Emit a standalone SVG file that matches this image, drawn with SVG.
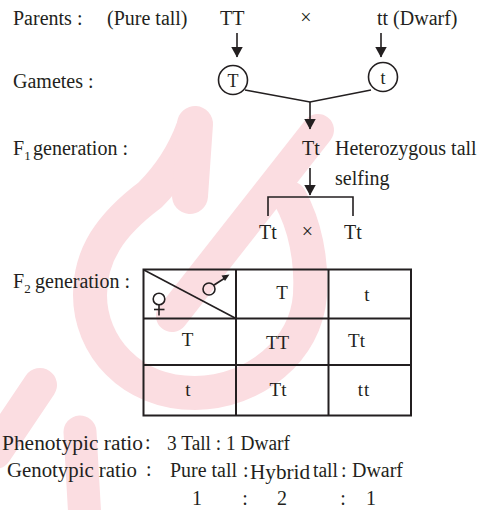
<svg xmlns="http://www.w3.org/2000/svg" width="479" height="510" viewBox="0 0 479 510">
<defs>
<style>
.t{font-family:"Liberation Serif","Times New Roman",serif;font-size:20px;fill:#231f20}
.s{font-size:18px}
.c{font-size:19px}
.b{font-family:"Liberation Serif","Times New Roman",serif;font-size:20px;fill:#231f20}
.ln{stroke:#231f20;stroke-width:1.6;fill:none}
.tb{stroke:#231f20;stroke-width:2;fill:none}
.wm{stroke:#fbdde1;fill:none;stroke-linecap:round;stroke-linejoin:round}
</style>
<marker id="ah" viewBox="0 0 11 12" refX="10.5" refY="6" markerWidth="11" markerHeight="12" markerUnits="userSpaceOnUse" orient="auto">
<path d="M0,0 L11,6 L0,12 Z" fill="#231f20"/>
</marker>
</defs>
<rect width="479" height="510" fill="#ffffff"/>
<g id="watermark">
<path class="wm" stroke-width="34" d="M290,198 C305,225 312,260 310,295 C306,350 255,392 195,393 C130,393 90,345 90,295 C90,255 110,225 150,195 C170,175 185,150 193,128"/>
<path class="wm" stroke-width="36" d="M195,124 L190,196"/>
<path class="wm" stroke-width="32" d="M318,130 L172,316"/>
<path class="wm" stroke-width="34" d="M40,385 L-5,452"/>
<path class="wm" stroke-width="33" d="M80,432 L85,520"/>
</g>
<g id="labels">
<text class="t" x="13" y="25">Parents :</text>
<text class="t" x="13" y="88">Gametes :</text>
<text class="t" x="13" y="155">F<tspan font-size="13" dy="5">1</tspan><tspan x="33" dy="-5">generation :</tspan></text>
<text class="t" x="13" y="288">F<tspan font-size="13" dy="5">2</tspan><tspan x="35" dy="-5">generation :</tspan></text>
</g>
<g id="parent-TT"><text class="t" x="107" y="25">(Pure tall)</text><text class="t" x="220" y="25">TT</text></g>
<g id="cross1"><text class="t" x="306" y="24" font-size="15" text-anchor="middle">×</text></g>
<g id="parent-tt"><text class="t" x="377" y="25">tt (Dwarf)</text></g>
<g id="gamete-T"><circle class="ln" cx="233" cy="80" r="14.5"/><text class="t s" x="233" y="86.5" text-anchor="middle">T</text></g>
<g id="gamete-t"><circle class="ln" cx="383" cy="77" r="14.5"/><text class="t s" x="383" y="83.5" text-anchor="middle">t</text></g>
<g id="f1"><text class="t" x="302" y="155">Tt</text><text class="t" x="335" y="155">Heterozygous tall</text><text class="t" x="335" y="185">selfing</text></g>
<g id="selfing-cross">
<text class="t" x="259" y="239" font-size="22">Tt</text>
<text class="t" x="307.5" y="238" font-size="15" text-anchor="middle">×</text>
<text class="t" x="344" y="239" font-size="22">Tt</text>
</g>
<g id="connectors">
<line class="ln" x1="237" y1="33" x2="237" y2="57" marker-end="url(#ah)"/>
<line class="ln" x1="381" y1="33" x2="381" y2="57" marker-end="url(#ah)"/>
<polyline class="ln" points="245,90 310,102 371,90"/>
<line class="ln" x1="310" y1="102" x2="310" y2="129" marker-end="url(#ah)"/>
<line class="ln" x1="310" y1="168" x2="310" y2="195" marker-end="url(#ah)"/>
<polyline class="ln" points="268,216 268,197 353,197 353,216"/>
</g>
<g id="punnett">
<rect class="tb" x="143.5" y="269.5" width="267.5" height="146"/>
<line class="tb" x1="236" y1="269.5" x2="236" y2="415.5"/>
<line class="tb" x1="328.5" y1="269.5" x2="328.5" y2="415.5"/>
<line class="tb" x1="143.5" y1="318.5" x2="411" y2="318.5"/>
<line class="tb" x1="143.5" y1="365" x2="411" y2="365"/>
<line class="ln" x1="144" y1="270" x2="236" y2="318.5"/>
<circle class="ln" cx="209" cy="289" r="6"/>
<line class="ln" x1="214" y1="285" x2="225" y2="278"/>
<path d="M229.5,274.5 L221.5,275.5 L225,281 Z" fill="#231f20"/>
<circle class="ln" cx="159" cy="299" r="5.8"/>
<line class="ln" x1="159" y1="305" x2="159" y2="315.5"/>
<line class="ln" x1="154" y1="309.5" x2="164.5" y2="309.5"/>
<text class="t c" x="282" y="298.5" text-anchor="middle">T</text>
<text class="t c" x="367" y="301" text-anchor="middle">t</text>
<text class="t c" x="187.5" y="345.5" text-anchor="middle">T</text>
<text class="t c" x="277.5" y="348.5" text-anchor="middle">TT</text>
<text class="t c" x="356.5" y="347" text-anchor="middle">Tt</text>
<text class="t c" x="188" y="396" text-anchor="middle">t</text>
<text class="t c" x="278" y="396" text-anchor="middle">Tt</text>
<text class="t c" x="364" y="395.5" text-anchor="middle" letter-spacing="1">tt</text>
</g>
<g id="ratios">
<text class="b" x="2" y="450" textLength="141" lengthAdjust="spacingAndGlyphs">Phenotypic ratio</text>
<text class="b" x="145" y="449">:</text>
<text class="b" x="167" y="450" textLength="123" lengthAdjust="spacingAndGlyphs">3 Tall : 1 Dwarf</text>
<text class="b" x="7" y="477" textLength="130" lengthAdjust="spacingAndGlyphs">Genotypic ratio</text>
<text class="b" x="146" y="476">:</text>
<text class="b" x="170" y="477" textLength="67" lengthAdjust="spacingAndGlyphs">Pure tall</text>
<text class="b" x="243" y="477">:</text>
<text class="b" x="250" y="479" textLength="60" lengthAdjust="spacingAndGlyphs">Hybrid</text>
<text class="b" x="313" y="477" textLength="25" lengthAdjust="spacingAndGlyphs">tall</text>
<text class="b" x="341" y="477">:</text>
<text class="b" x="352" y="477" textLength="51" lengthAdjust="spacingAndGlyphs">Dwarf</text>
<text class="b" x="197" y="505" text-anchor="middle">1</text>
<text class="b" x="245" y="505" text-anchor="middle">:</text>
<text class="b" x="282" y="505" text-anchor="middle">2</text>
<text class="b" x="343" y="505" text-anchor="middle">:</text>
<text class="b" x="371" y="505" text-anchor="middle">1</text>
</g>
</svg>
